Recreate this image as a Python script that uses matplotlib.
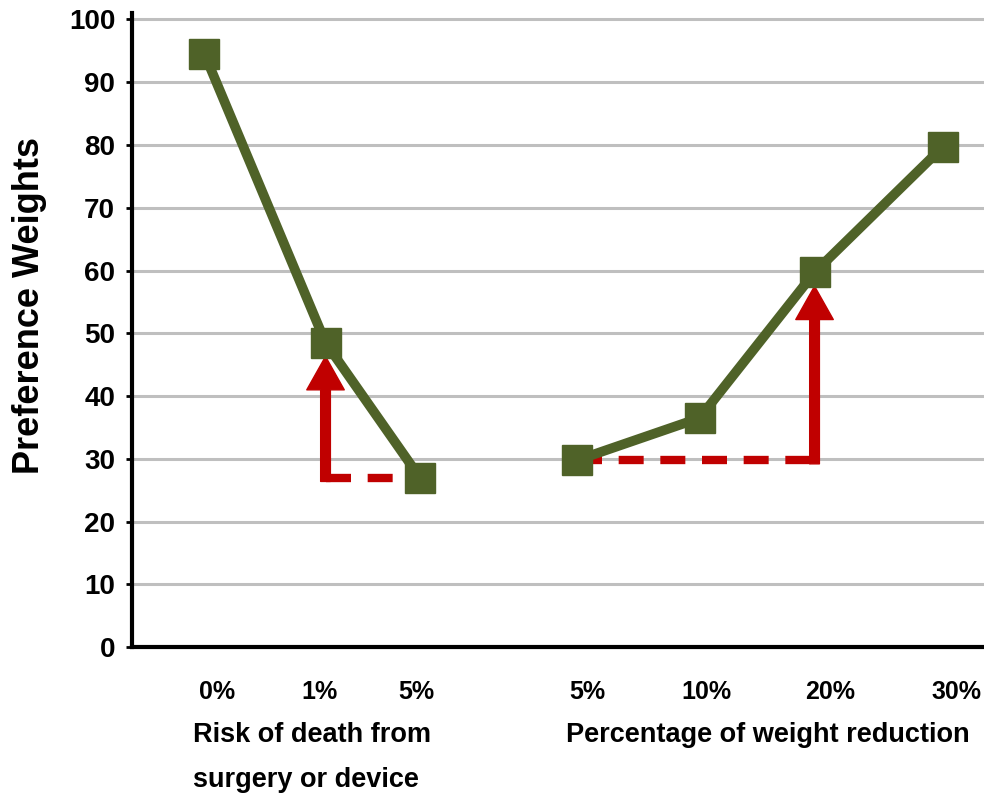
import matplotlib.pyplot as plt

# category positions along x (two groups with a gap between them)
risk_labels = ["0%", "1%", "5%"]
risk_x = [0.0, 1.0, 1.78]
risk_weights = [94.5, 48.5, 27.0]

weight_labels = ["5%", "10%", "20%", "30%"]
weight_x = [3.08, 4.09, 5.04, 6.1]
reduction_weights = [29.8, 36.5, 59.7, 79.7]

tick_x = [0.1, 0.95, 1.75, 3.16, 4.15, 5.17, 6.21]

green = "#4f6228"
red = "#c00000"

plt.rcParams['font.family'] = ['Liberation Sans', 'DejaVu Sans']
plt.rcParams['font.weight'] = 'bold'

fig = plt.figure(figsize=(9.84, 7.96), dpi=100)
ax = fig.add_axes([0.134, 0.187, 0.866, 0.7965])

ax.set_xlim(-0.6, 6.44)
ax.set_ylim(0, 101)
ax.set_yticks(range(0, 101, 10))
ax.yaxis.grid(True, color="#bfbfbf", linewidth=2.2)
ax.set_axisbelow(True)

for side in ["top", "right"]:
    ax.spines[side].set_visible(False)
ax.spines["left"].set_linewidth(3)
ax.spines["bottom"].set_linewidth(3)
ax.tick_params(axis="y", length=4, width=2, labelsize=20, pad=8)
ax.tick_params(axis="x", length=0, labelsize=18, pad=24)
for lab in ax.get_yticklabels():
    lab.set_fontweight("bold")

ax.set_xticks(tick_x)
ax.set_xticklabels(risk_labels + weight_labels, fontweight="bold")

# red guide: dashed baseline plus arrow up to the next level
ax.plot([risk_x[1], risk_x[2]], [risk_weights[2], risk_weights[2]],
        color=red, linewidth=6, dashes=(3, 2), zorder=2)
ax.plot([weight_x[0], weight_x[2]], [reduction_weights[0], reduction_weights[0]],
        color=red, linewidth=6, dashes=(3, 2), zorder=2)
arrow = dict(width=7, headwidth=27, headlength=24, color=red, shrink=0)
ax.annotate("", xy=(risk_x[1], risk_weights[1] - 2.2),
            xytext=(risk_x[1], risk_weights[2] - 0.6), arrowprops=arrow, zorder=2)
ax.annotate("", xy=(weight_x[2], reduction_weights[2] - 2.2),
            xytext=(weight_x[2], reduction_weights[0] - 0.6), arrowprops=arrow, zorder=2)

ax.plot(risk_x, risk_weights, color=green, linewidth=7, marker="s",
        markersize=22, zorder=3)
ax.plot(weight_x, reduction_weights, color=green, linewidth=7, marker="s",
        markersize=22, zorder=3)

fig.text(30 / 984, 1 - 305 / 796, "Preference Weights", rotation=90,
         ha="center", va="center", fontsize=26, fontweight="bold")
fig.text(193 / 984, 1 - 735 / 796, "Risk of death from",
         ha="left", va="center", fontsize=19.5, fontweight="bold")
fig.text(193 / 984, 1 - 780 / 796, "surgery or device",
         ha="left", va="center", fontsize=19.5, fontweight="bold")
fig.text(566 / 984, 1 - 735 / 796, "Percentage of weight reduction",
         ha="left", va="center", fontsize=19.5, fontweight="bold")

fig.savefig("out.png", dpi=100)
